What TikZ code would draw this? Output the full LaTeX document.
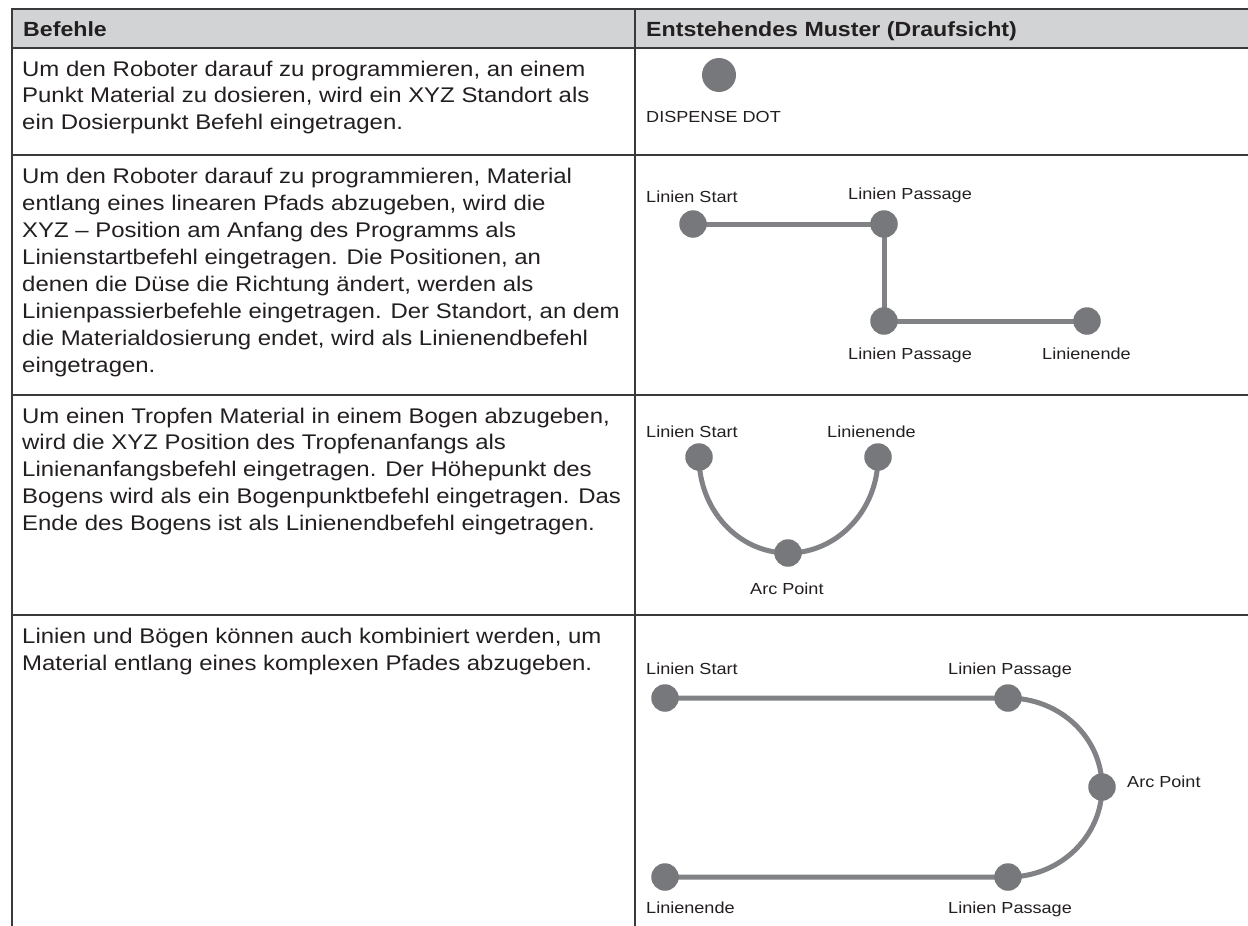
\documentclass[tikz,border=0pt]{standalone}
\usepackage{fontspec}
\setmainfont[FakeStretch=1.13]{Liberation Sans}
\definecolor{ink}{HTML}{231F20}
\definecolor{border}{HTML}{3A3A3A}
\definecolor{headfill}{HTML}{D1D3D4}
\definecolor{dotgray}{HTML}{77787B}
\definecolor{linegray}{HTML}{808285}
\pgfdeclarelayer{bg}
\pgfsetlayers{bg,main}
\begin{document}
\begin{tikzpicture}[x=1pt,y=-1pt,
  tabline/.style={draw=border, line width=2pt},
  head/.style={anchor=base west, inner sep=0pt, font=\fontsize{20.5}{24}\selectfont\bfseries, text=ink},
  body/.style={anchor=base west, inner sep=0pt, text=ink},
  lbl/.style={anchor=base west, inner sep=0pt, font=\fontsize{16}{19}\selectfont, text=ink},
  pdot/.style={circle, fill=dotgray, minimum size=27.5pt, inner sep=0pt},
  bigdot/.style={pdot, minimum size=34pt},
  trace/.style={draw=linegray, line width=5pt}
]
\begin{pgfonlayer}{bg}
\fill[white] (0,0) rectangle (1248,926);
\end{pgfonlayer}
\useasboundingbox (0,0) rectangle (1248,926);
% header
\fill[headfill] (12,9) rectangle (1248,48);
\draw[tabline] (1248,9) -- (12,9) -- (12,926);
\draw[tabline] (635,9) -- (635,926);
\foreach \yy in {48,155,395,615} \draw[tabline] (12,\yy) -- (1248,\yy);
\node[head] (h1) at (23,36) {Befehle};
\node[head] (h2) at (646,36) {Entstehendes Muster (Draufsicht)};
% column 1 texts
\node[body, font=\fontsize{21.2}{26.5}\selectfont] (t1) at (22,76) {\begin{tabular}[t]{@{}l@{}}
Um den Roboter darauf zu programmieren, an einem\\
Punkt Material zu dosieren, wird ein XYZ Standort als\\
ein Dosierpunkt Befehl eingetragen.\end{tabular}};
\node[body, font=\fontsize{21.2}{27}\selectfont] (t2) at (22,183) {\begin{tabular}[t]{@{}l@{}}
Um den Roboter darauf zu programmieren, Material\\
entlang eines linearen Pfads abzugeben, wird die\\
XYZ – Position am Anfang des Programms als\\
Linienstartbefehl eingetragen. Die Positionen, an\\
denen die Düse die Richtung ändert, werden als\\
Linienpassierbefehle eingetragen. Der Standort, an dem\\
die Materialdosierung endet, wird als Linienendbefehl\\
eingetragen.\end{tabular}};
\node[body, font=\fontsize{21.2}{26.8}\selectfont] (t3) at (22,423) {\begin{tabular}[t]{@{}l@{}}
Um einen Tropfen Material in einem Bogen abzugeben,\\
wird die XYZ Position des Tropfenanfangs als\\
Linienanfangsbefehl eingetragen. Der Höhepunkt des\\
Bogens wird als ein Bogenpunktbefehl eingetragen. Das\\
Ende des Bogens ist als Linienendbefehl eingetragen.\end{tabular}};
\node[body, font=\fontsize{21.2}{27}\selectfont] (t4) at (22,643) {\begin{tabular}[t]{@{}l@{}}
Linien und Bögen können auch kombiniert werden, um\\
Material entlang eines komplexen Pfades abzugeben.\end{tabular}};
% row 1 pattern
\node[bigdot] (d1) at (719,75) {};
\node[lbl] (l1) at (646,122) {DISPENSE DOT};
% row 2 pattern
\node[pdot] (s2) at (693,224) {};
\node[pdot] (p2a) at (884,224) {};
\node[pdot] (p2b) at (884,321) {};
\node[pdot] (e2) at (1087,321) {};
\node[lbl] (l2a) at (646,202) {Linien Start};
\node[lbl] (l2b) at (848,199) {Linien Passage};
\node[lbl] (l2c) at (848,359) {Linien Passage};
\node[lbl] (l2d) at (1042,359) {Linienende};
% row 3 pattern
\node[pdot] (s3) at (699,457) {};
\node[pdot] (e3) at (878,457) {};
\node[pdot] (a3) at (788,553) {};
\node[lbl] (l3a) at (646,437) {Linien Start};
\node[lbl] (l3b) at (827,437) {Linienende};
\node[lbl] (l3c) at (750,594) {Arc Point};
% row 4 pattern
\node[pdot] (s4) at (665,698) {};
\node[pdot] (p4a) at (1008,698) {};
\node[pdot] (a4) at (1102,787) {};
\node[pdot] (p4b) at (1008,877) {};
\node[pdot] (e4) at (665,877) {};
\node[lbl] (l4a) at (646,674) {Linien Start};
\node[lbl] (l4b) at (948,674) {Linien Passage};
\node[lbl] (l4c) at (1127,787) {Arc Point};
\node[lbl] (l4d) at (646,913) {Linienende};
\node[lbl] (l4e) at (948,913) {Linien Passage};
% connectors
\begin{pgfonlayer}{bg}
\draw[trace] (s2.center) -- (p2a.center) -- (p2b.center) -- (e2.center);
\draw[trace] (s3.center) .. controls +(0,53) and +(-49.4,0) .. (a3.center)
  .. controls +(49.4,0) and +(0,53) .. (e3.center);
\draw[trace] (s4.center) -- (p4a.center) .. controls +(52,0) and +(0,-49.4) .. (a4.center)
  .. controls +(0,49.4) and +(52,0) .. (p4b.center) -- (e4.center);
\end{pgfonlayer}
\end{tikzpicture}
\end{document}
